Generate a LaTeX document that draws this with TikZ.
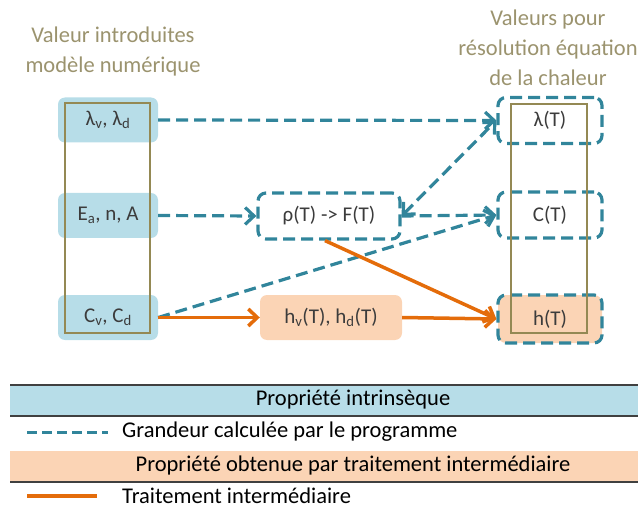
\documentclass[tikz,border=0pt]{standalone}
\usepackage{fontspec}
\setmainfont{Carlito}
\usetikzlibrary{arrows.meta}
\definecolor{bleuclair}{RGB}{183,221,232}
\definecolor{bleu}{RGB}{49,133,155}
\definecolor{orangef}{RGB}{228,108,10}
\definecolor{orangeclair}{RGB}{251,212,181}
\definecolor{kaki}{RGB}{148,137,84}
\definecolor{kakitxt}{RGB}{155,147,110}
\definecolor{gristxt}{RGB}{60,60,60}
\definecolor{trait}{RGB}{64,64,64}
\begin{document}
\begin{tikzpicture}[x=1pt,y=-1pt,
  txt/.style={font=\fontsize{21}{24}\selectfont, text=gristxt, inner sep=0pt},
  intr/.style={txt, fill=bleuclair, rounded corners=7pt, minimum width=100pt, minimum height=45pt},
  calc/.style={txt, draw=bleu, line width=3.2pt, dash pattern=on 12pt off 6pt, rounded corners=8pt, minimum height=46pt},
  inter/.style={txt, fill=orangeclair, rounded corners=7pt, minimum width=142pt, minimum height=45pt},
  fcalc/.style={draw=bleu, line width=3.2pt, dash pattern=on 12pt off 6pt, -{Straight Barb[length=9pt,width=17pt]}},
  finter/.style={draw=orangef, line width=3.5pt, -{Straight Barb[length=9pt,width=17pt]}},
  cadre/.style={draw=kaki, line width=2pt},
  titre/.style={font=\fontsize{22.5}{30}\selectfont, text=kakitxt, align=center},
  leg/.style={font=\fontsize{22.5}{24}\selectfont, inner sep=0pt}]
  \useasboundingbox (0,0) rectangle (638,508);
  \node[titre] (tg) at (113,52) {Valeur introduites\\modèle numérique};
  \node[titre] (td) at (548,48) {Valeurs pour\\résolution équation\\de la chaleur};
  \node[intr] (lv) at (108,120) {λ\textsubscript{v}, λ\textsubscript{d}};
  \node[intr] (ea) at (108,215.5) {E\textsubscript{a}, n, A};
  \node[intr] (cv) at (108,317.5) {C\textsubscript{v}, C\textsubscript{d}};
  \draw[cadre] (65,103) rectangle (150,333);
  \node[calc, minimum width=142pt] (rho) at (329,216) {ρ(T) -> F(T)};
  \node[inter] (hvd) at (331,317.5) {h\textsubscript{v}(T), h\textsubscript{d}(T)};
  \node[calc, minimum width=104pt] (lT) at (550,120.5) {λ(T)};
  \node[calc, minimum width=104pt] (CT) at (550,215) {C(T)};
  \node[calc, minimum width=104pt, minimum height=48pt, fill=orangeclair] (hT) at (550,319) {h(T)};
  \draw[cadre] (511,104) rectangle (587,333);
  \draw[fcalc] (lv.east) -- (lT.west);
  \draw[fcalc] (ea.east) -- (rho.west);
  \draw[fcalc, {Straight Barb[length=9pt,width=17pt]}-{Straight Barb[length=9pt,width=17pt]}] (rho.east) -- (lT.west);
  \draw[fcalc] (rho.east) -- (CT.west);
  \draw[fcalc] (cv.east) -- (CT.west);
  \draw[finter] (cv.east) -- (hvd.west);
  \draw[finter] (hvd.east) -- (hT.west);
  \draw[finter] ([xshift=-4pt]rho.south) -- (hT.west);
  \fill[bleuclair] (10,385) rectangle (638,416);
  \draw[trait, line width=1.5pt] (10,385) -- (638,385) (10,416) -- (638,416);
  \node[leg] (lp) at (353,400) {Propriété intrinsèque};
  \coordinate (d1) at (27,432);
  \coordinate (d2) at (108,432);
  \draw[bleu, line width=3pt, dash pattern=on 10pt off 5pt] (d1) -- (d2);
  \node[leg, anchor=west] (lg) at (122,432) {Grandeur calculée par le programme};
  \fill[orangeclair] (10,451) rectangle (638,482);
  \draw[trait, line width=1.5pt] (10,482) -- (638,482);
  \node[leg] (lo) at (353,466) {Propriété obtenue par traitement intermédiaire};
  \coordinate (o1) at (27,496);
  \coordinate (o2) at (97,496);
  \draw[orangef, line width=4pt] (o1) -- (o2);
  \node[leg, anchor=base west] (lt) at (122,503) {Traitement intermédiaire};
\end{tikzpicture}
\end{document}
